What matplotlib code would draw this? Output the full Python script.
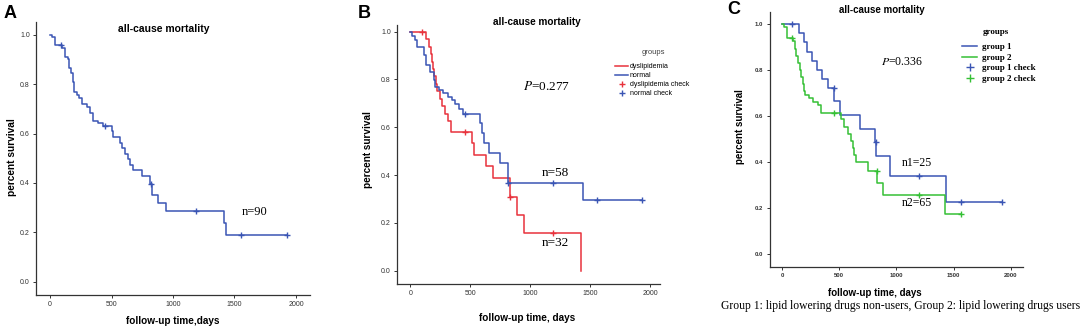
import matplotlib
matplotlib.use('Agg')
import matplotlib.pyplot as plt
import numpy as np

W, H = 1084, 330

plt.rcParams['font.family'] = ['Liberation Sans', 'DejaVu Sans']
plt.rcParams['mathtext.fontset'] = 'stix'

BLUE = '#3a55b4'
RED = '#e8323c'
GREEN = '#35c035'

# Panel A: all patients (n=90)
a_time = [0, 14, 41, 95, 122, 144, 157, 171, 184, 195, 217, 238, 263, 298, 325, 347,
          388, 434, 501, 515, 569, 588, 610, 631, 650, 678, 745, 813, 832, 881, 943, 1417, 1432]
a_surv = [1.0, 0.989, 0.956, 0.945, 0.91, 0.90, 0.865, 0.845, 0.81, 0.768, 0.755, 0.742,
          0.72, 0.707, 0.685, 0.652, 0.641, 0.63, 0.61, 0.585, 0.563, 0.54, 0.518, 0.496,
          0.474, 0.452, 0.43, 0.395, 0.352, 0.318, 0.285, 0.24, 0.19]
a_cens = [90, 450, 821, 1187, 1550, 1924]

# Panel B: dyslipidemia (n=32) vs normal (n=58)
dys_time = [0, 133, 153, 170, 181, 189, 197, 211, 225, 244, 264, 286, 314, 342,
            514, 530, 633, 689, 828, 894, 950, 1425]
dys_surv = [1.0, 0.969, 0.938, 0.906, 0.875, 0.844, 0.813, 0.781, 0.75, 0.719, 0.688,
            0.656, 0.625, 0.582, 0.533, 0.484, 0.437, 0.387, 0.31, 0.233, 0.156, 0.0]
dys_cens = [97, 458, 828, 1194]

nor_time = [0, 14, 36, 56, 111, 131, 164, 197, 208, 236, 269, 311, 347, 375, 403, 440,
            583, 597, 611, 658, 750, 819, 1444]
nor_surv = [1.0, 0.983, 0.965, 0.934, 0.902, 0.86, 0.833, 0.798, 0.77, 0.756, 0.742,
            0.728, 0.714, 0.697, 0.675, 0.655, 0.617, 0.575, 0.533, 0.491, 0.449, 0.368, 0.296]
nor_cens = [458, 819, 1194, 1556, 1931]

# Panel C: lipid lowering drugs non-users (n=25) vs users (n=65)
g1_time = [0, 152, 188, 222, 258, 306, 349, 400, 457, 508, 683, 815, 822, 946, 1432]
g1_surv = [1.0, 0.96, 0.92, 0.88, 0.84, 0.80, 0.76, 0.72, 0.667, 0.606, 0.545, 0.485,
           0.424, 0.34, 0.227]
g1_cens = [90, 452, 818, 1194, 1560, 1925]

g2_time = [0, 20, 45, 100, 112, 125, 140, 155, 165, 180, 190, 205, 235, 270, 315, 340,
           515, 540, 575, 600, 620, 632, 645, 748, 830, 885, 1425]
g2_surv = [1.0, 0.985, 0.94, 0.924, 0.893, 0.862, 0.83, 0.80, 0.77, 0.74, 0.71, 0.692,
           0.677, 0.661, 0.646, 0.615, 0.585, 0.554, 0.523, 0.492, 0.462, 0.431, 0.40,
           0.362, 0.31, 0.258, 0.172]
g2_cens = [90, 455, 826, 1194, 1560]

x_ticks = [0, 500, 1000, 1500, 2000]
y_ticks = [0.0, 0.2, 0.4, 0.6, 0.8, 1.0]


def fx(x):
    return x / W


def fy(y):
    return 1 - y / H


# Draws a KM step curve with its censor marks
def km(ax, times, surv, cens, color):
    t = list(times) + [max(times[-1], max(cens))]
    s = list(surv) + [surv[-1]]
    line, = ax.step(t, s, where='post', color=color, lw=1.1)
    idx = np.searchsorted(times, cens, side='right') - 1
    mark, = ax.plot(cens, np.array(surv)[idx], '+', color=color, ms=4.5, mew=1.0, ls='')
    return line, mark


# Makes a panel from pixel box and data limits
def panel(l, t, r, b, xlim, ylim, tick_size=5, tick_weight='normal'):
    ax = fig.add_axes([fx(l), fy(b), fx(r - l), (b - t) / H])
    ax.set_xlim(*xlim)
    ax.set_ylim(*ylim)
    for sp in ['top', 'right']:
        ax.spines[sp].set_visible(False)
    for sp in ['left', 'bottom']:
        ax.spines[sp].set_linewidth(0.9)
        ax.spines[sp].set_color('#333333')
    ax.set_xticks(x_ticks)
    ax.set_yticks(y_ticks)
    ax.set_yticklabels([f'{v:.1f}' for v in y_ticks])
    ax.tick_params(length=2.5, width=0.7, pad=2, labelsize=tick_size, colors='#333333')
    for lab in ax.get_xticklabels() + ax.get_yticklabels():
        lab.set_fontweight(tick_weight)
    return ax


fig = plt.figure(figsize=(W / 100, H / 100), dpi=100)

# ---- A ----
axA = panel(36, 22, 310, 295, (-114, 2114), (-0.053, 1.051))
km(axA, a_time, a_surv, a_cens, BLUE)
fig.text(fx(4), fy(13), 'A', fontsize=13, fontweight='bold', va='center')
fig.text(fx(164), fy(29), 'all-cause mortality', fontsize=7.5, fontweight='bold', ha='center', va='center')
fig.text(fx(173), fy(321), 'follow-up time,days', fontsize=7.2, fontweight='bold', ha='center', va='center')
fig.text(fx(12), fy(157), 'percent survival', fontsize=7.3, fontweight='bold', ha='center', va='center', rotation=90)
fig.text(fx(255), fy(212), 'n=90', fontsize=9, family='Liberation Serif', ha='center', va='center')

# ---- B ----
axB = panel(397, 25, 660, 284, (-111, 2083), (-0.056, 1.028))
l1, m1 = km(axB, dys_time, dys_surv, dys_cens, RED)
l2, m2 = km(axB, nor_time, nor_surv, nor_cens, BLUE)
fig.text(fx(358), fy(13), 'B', fontsize=13, fontweight='bold', va='center')
fig.text(fx(537), fy(22), 'all-cause mortality', fontsize=7.2, fontweight='bold', ha='center', va='center')
fig.text(fx(527), fy(318), 'follow-up time, days', fontsize=7.2, fontweight='bold', ha='center', va='center')
fig.text(fx(368), fy(150), 'percent survival', fontsize=7.2, fontweight='bold', ha='center', va='center', rotation=90)
fig.text(fx(547), fy(87), r'$P$=0.277', fontsize=9.5, family='Liberation Serif', ha='center', va='center')
fig.text(fx(555), fy(173), 'n=58', fontsize=9.5, family='Liberation Serif', ha='center', va='center')
fig.text(fx(555), fy(243), 'n=32', fontsize=9.5, family='Liberation Serif', ha='center', va='center')
fig.text(fx(653), fy(53), 'groups', fontsize=5.5, color='#444444', ha='center', va='center')
axB.legend([l1, l2, m1, m2], ['dyslipidemia', 'normal', 'dyslipidemia check', 'normal check'],
           loc='upper left', bbox_to_anchor=(fx(615), fy(63)), bbox_transform=fig.transFigure,
           frameon=False, fontsize=5, handlelength=1.9, handletextpad=0.2, labelspacing=0.3,
           borderpad=0, borderaxespad=0, numpoints=1)

# ---- C ----
axC = panel(769.5, 12, 1023, 266.7, (-109, 2105), (-0.055, 1.052), tick_size=4.3, tick_weight='bold')
l3, m3 = km(axC, g1_time, g1_surv, g1_cens, BLUE)
l4, m4 = km(axC, g2_time, g2_surv, g2_cens, GREEN)
fig.text(fx(727), fy(9), 'C', fontsize=13, fontweight='bold', va='center')
fig.text(fx(882), fy(10), 'all-cause mortality', fontsize=7, fontweight='bold', ha='center', va='center')
fig.text(fx(875), fy(293), 'follow-up time, days', fontsize=7, fontweight='bold', ha='center', va='center')
fig.text(fx(740), fy(127), 'percent survival', fontsize=7, fontweight='bold', ha='center', va='center', rotation=90)
fig.text(fx(902), fy(62), r'$P$=0.336', fontsize=8.5, family='Liberation Serif', ha='center', va='center')
fig.text(fx(917), fy(163), 'n1=25', fontsize=8.5, family='Liberation Serif', ha='center', va='center')
fig.text(fx(917), fy(203), 'n2=65', fontsize=8.5, family='Liberation Serif', ha='center', va='center')
fig.text(fx(983), fy(32), 'groups', fontsize=6.5, family='Liberation Serif', fontweight='bold', ha='left', va='center')
axC.legend([l3, l4, m3, m4], ['group 1', 'group 2', 'group 1 check', 'group 2 check'],
           loc='upper left', bbox_to_anchor=(fx(962), fy(43)), bbox_transform=fig.transFigure,
           frameon=False, prop={'family': 'Liberation Serif', 'weight': 'bold', 'size': 6.5},
           handlelength=1.7, handletextpad=0.5, labelspacing=0.25, borderpad=0, borderaxespad=0,
           numpoints=1, markerscale=1.4)
fig.text(fx(901), fy(306), 'Group 1: lipid lowering drugs non-users, Group 2: lipid lowering drugs users',
         fontsize=8.4, family='Liberation Serif', ha='center', va='center')

fig.savefig('out.png', dpi=100)
